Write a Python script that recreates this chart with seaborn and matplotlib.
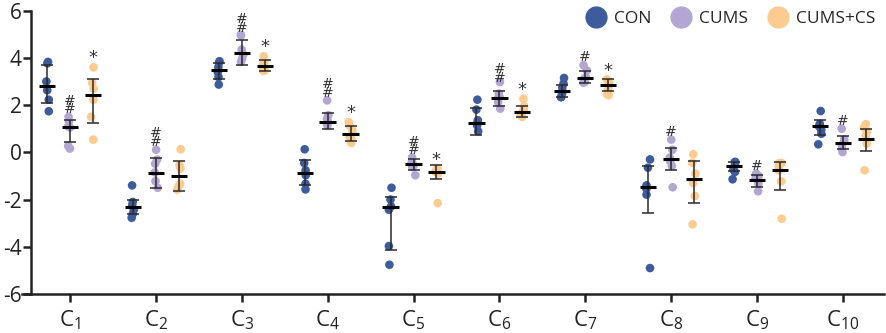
import numpy as np
import pandas as pd
import matplotlib
matplotlib.use("Agg")
import matplotlib.pyplot as plt
from matplotlib.lines import Line2D
import seaborn as sns

sns.set_style("ticks")
plt.rcParams['font.family'] = ['Open Sans', 'DejaVu Sans']
plt.rcParams['axes.unicode_minus'] = False
np.random.seed(3)  # only for the horizontal jitter of the dots

cats = ["C1", "C2", "C3", "C4", "C5", "C6", "C7", "C8", "C9", "C10"]
groups = ["CON", "CUMS", "CUMS+CS"]
colors = ["#3E5B9C", "#B3A6D5", "#FBCB8F"]

# individual samples
con_pts = [[3.77, 3.83, 3.0, 2.63, 2.23, 1.74],
           [-1.4, -2.1, -2.25, -2.43, -2.6, -2.77],
           [3.86, 3.8, 3.61, 3.4, 3.19, 2.87],
           [0.13, -0.45, -0.76, -0.97, -1.33, -1.57],
           [-1.5, -2.0, -2.29, -2.43, -3.97, -4.76],
           [2.23, 1.81, 1.36, 1.25, 1.14, 0.89],
           [3.15, 2.91, 2.74, 2.5, 2.34, 2.34],
           [-0.3, -0.65, -1.4, -1.54, -1.79, -4.9],
           [-0.41, -0.41, -0.55, -0.73, -0.83, -1.14],
           [1.75, 1.21, 1.1, 0.95, 0.79, 0.34]]
cums_pts = [[1.5, 1.3, 1.1, 1.05, 0.27, 0.16],
            [0.11, -0.31, -0.48, -0.85, -1.22, -1.5],
            [4.98, 4.95, 4.35, 4.14, 3.97, 3.83],
            [2.2, 1.57, 1.43, 1.3, 1.2, 1.14],
            [-0.22, -0.4, -0.45, -0.55, -0.62, -0.97],
            [2.98, 2.49, 2.35, 2.3, 2.13, 1.85],
            [3.69, 3.47, 3.19, 3.1, 2.98, 2.95],
            [0.54, 0.11, -0.22, -0.37, -0.58, -1.48],
            [-0.9, -0.95, -1.0, -1.1, -1.33, -1.65],
            [1.0, 0.55, 0.45, 0.3, 0.15, 0.01]]
cs_pts = [[3.6, 2.95, 2.7, 2.23, 1.5, 0.54],
          [0.13, -0.55, -0.69, -1.33, -1.45, -1.58],
          [4.07, 3.83, 3.76, 3.6, 3.47, 3.45],
          [1.28, 1.14, 0.93, 0.65, 0.56, 0.4],
          [-0.69, -0.73, -0.8, -0.83, -0.9, -2.15],
          [2.27, 1.95, 1.8, 1.71, 1.6, 1.5],
          [3.09, 2.98, 2.84, 2.66, 2.45, 2.42],
          [-0.08, -0.44, -0.9, -1.3, -1.85, -3.05],
          [-0.45, -0.45, -0.6, -0.76, -1.23, -2.81],
          [1.19, 1.05, 0.9, 0.72, 0.37, -0.76]]

# mean and error bar ends as drawn
con_mean = [2.8, -2.32, 3.47, -0.88, -2.32, 1.26, 2.58, -1.47, -0.59, 1.1]
con_lo = [2.09, -2.6, 3.1, -1.4, -4.15, 0.75, 2.35, -2.57, -0.8, 0.75]
con_hi = [3.69, -2.0, 3.8, -0.34, -1.89, 1.89, 2.85, -0.58, -0.4, 1.39]
cums_mean = [1.07, -0.86, 4.22, 1.28, -0.48, 2.3, 3.15, -0.28, -1.19, 0.41]
cums_lo = [0.45, -1.5, 3.7, 1.0, -0.75, 1.95, 2.95, -0.76, -1.45, 0.15]
cums_hi = [1.35, -0.22, 4.75, 1.68, -0.3, 2.6, 3.45, 0.18, -0.95, 0.7]
cs_mean = [2.44, -1.02, 3.66, 0.79, -0.83, 1.71, 2.87, -1.12, -0.76, 0.55]
cs_lo = [1.26, -1.65, 3.45, 0.5, -1.14, 1.5, 2.6, -2.15, -1.61, 0.04]
cs_hi = [3.09, -0.37, 3.9, 1.1, -0.55, 1.95, 3.1, -0.37, -0.4, 0.97]

# significance marks
cums_mark = ["##", "##", "##", "##", "##", "##", "#", "#", "#", "#"]
cums_mark_y = [2.0, 0.62, 5.45, 2.7, 0.27, 3.33, 4.04, 0.86, -0.58, 1.31]
cs_mark = ["*", "", "*", "*", "*", "*", "*", "", "", ""]
cs_mark_y = [4.0, 0, 4.46, 1.67, -0.31, 2.66, 3.43, 0, 0, 0]

rows = []
for g, pts in zip(groups, [con_pts, cums_pts, cs_pts]):
    for c, vals in zip(cats, pts):
        for v in vals:
            rows.append((c, g, v))
df = pd.DataFrame(rows, columns=["cat", "group", "value"])

fig = plt.figure(figsize=(8.86, 3.33), dpi=100)
ax = fig.add_axes([22 / 886, 0.117, 862 / 886, 0.851])

sns.stripplot(data=df, x="cat", y="value", hue="group", order=cats,
              hue_order=groups, palette=colors, dodge=True, jitter=0.07,
              size=6.2, legend=False, ax=ax, zorder=2)

offsets = (np.arange(3) - 1) * 0.8 / 3
xs = np.arange(len(cats))
stats = [(con_mean, con_lo, con_hi), (cums_mean, cums_lo, cums_hi), (cs_mean, cs_lo, cs_hi)]
for off, (m, lo, hi) in zip(offsets, stats):
    m, lo, hi = np.array(m), np.array(lo), np.array(hi)
    ax.errorbar(xs + off, m, yerr=[m - lo, hi - m], fmt='none', ecolor='#2a2a2a',
                elinewidth=1.1, capsize=4, capthick=1.1, zorder=4)
    ax.hlines(m, xs + off - 0.095, xs + off + 0.095, color='black', lw=2.2, zorder=5)

for i in range(len(cats)):
    t = cums_mark[i]
    if t:
        ax.text(xs[i] + offsets[1], cums_mark_y[i], "\n".join(list(t)), ha='center', va='center',
                fontsize=10, linespacing=0.5, color='#333333', family='DejaVu Sans')
    t = cs_mark[i]
    if t:
        ax.text(xs[i] + offsets[2], cs_mark_y[i], t, ha='center', va='center',
                fontsize=13, color='#333333', family='DejaVu Sans')

sns.despine(ax=ax)
ax.spines['left'].set_position(('data', -0.454))
ax.spines['left'].set_bounds(-6, 6)
for s in ['left', 'bottom']:
    ax.spines[s].set_linewidth(1.8)
    ax.spines[s].set_color('#222222')

ax.set_xlim(-0.56, 9.48)
ax.set_ylim(-6, 6)
ax.set_yticks([6, 4, 2, 0, -2, -4, -6])
ax.set_yticklabels(["6", "4", "2", "0", "-2", "-4", "-6"])
ax.set_xticks(xs)
ax.set_xticklabels([r"$\mathregular{C_{%s}}$" % c[1:] for c in cats])
ax.set_xlabel("")
ax.set_ylabel("")
ax.tick_params(axis='both', width=1.8, length=6, colors='#222222')
ax.tick_params(axis='x', pad=4, labelsize=16)
ax.tick_params(axis='y', pad=1, labelsize=15)

handles = [Line2D([], [], marker='o', ls='', markersize=15, color=c) for c in colors]
ax.legend(handles, groups, loc='upper right', bbox_to_anchor=(1.0, 1.03), ncol=3,
          frameon=False, fontsize=12.5, handletextpad=0.05, columnspacing=0.7,
          borderaxespad=0.1)

fig.savefig("out.png", dpi=100)
